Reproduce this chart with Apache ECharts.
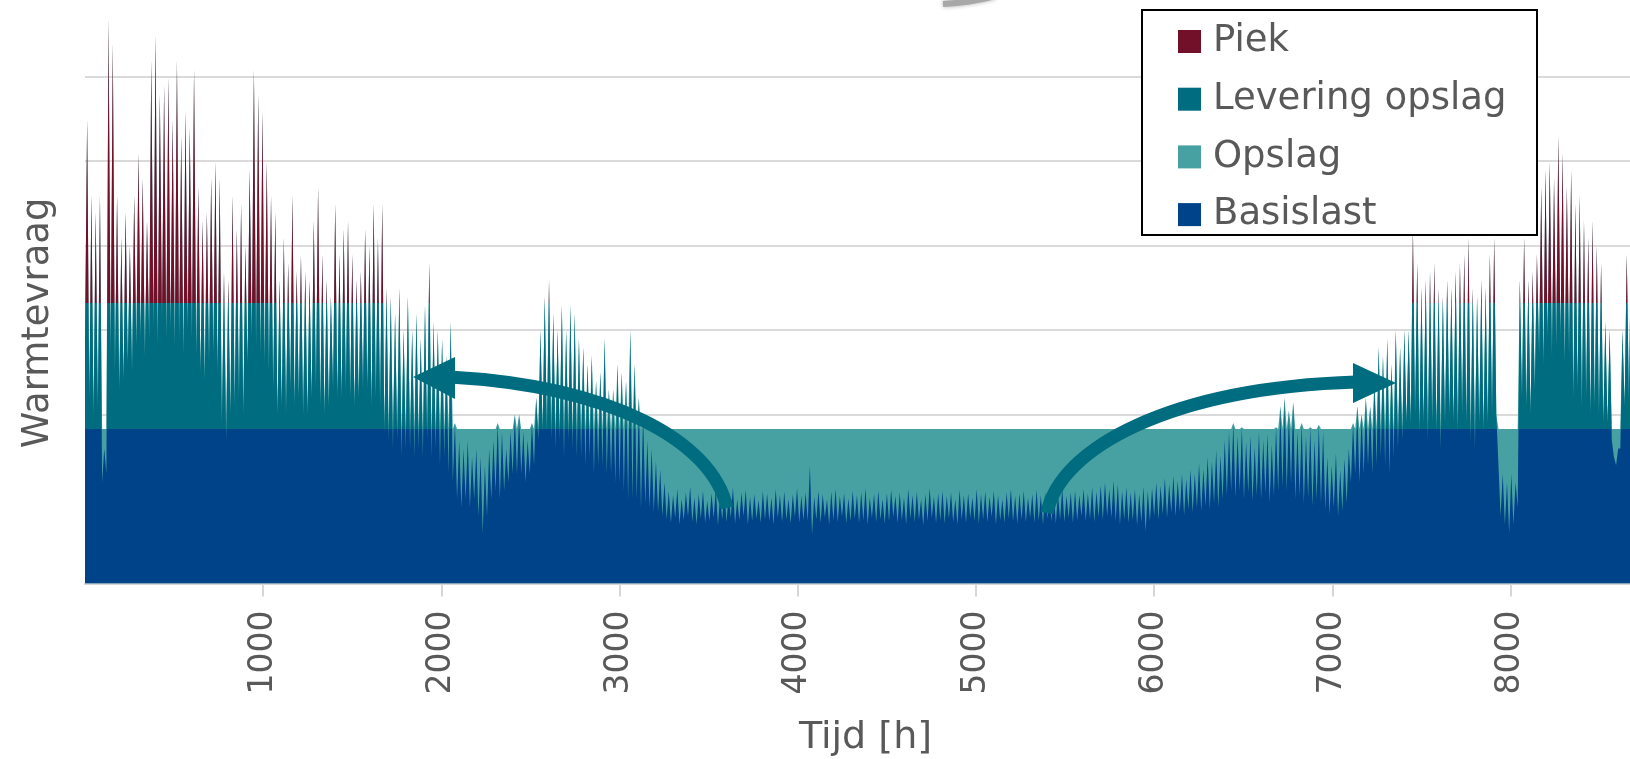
<!DOCTYPE html>
<html>
<head>
<meta charset="utf-8">
<title>Warmtevraag</title>
<script src="https://cdn.jsdelivr.net/npm/echarts@6/dist/echarts.min.js"></script>
<style>
    html, body { margin: 0; padding: 0; background: #fff; }
    #chart { width: 1630px; height: 759px; }
</style>
</head>
<body>
<div id="chart"></div>
<script>
var dailyMax = [
    5.5, 4.6, 4.4, 4.6, 1.6, 6.7, 6.4, 4.6, 4.1, 4.4,
    4.0, 4.6, 5.1, 4.8, 4.3, 6.2, 6.5, 5.8, 5.9, 6.0,
    5.5, 6.2, 5.3, 5.6, 5.4, 6.1, 4.7, 4.3, 4.4, 4.8,
    5.0, 4.8, 3.7, 3.6, 4.6, 4.2, 4.5, 4.0, 4.9, 6.1,
    5.8, 5.6, 5.0, 4.6, 4.4, 3.6, 4.1, 3.8, 4.6, 3.7,
    3.9, 3.7, 3.6, 4.3, 4.7, 3.9, 3.6, 3.4, 4.5, 3.9,
    4.2, 4.3, 3.9, 3.6, 3.7, 4.2, 4.0, 4.5, 4.1, 4.5,
    3.5, 3.4, 3.2, 3.5, 3.0, 3.4, 3.0, 3.2, 2.9, 3.3,
    3.8, 3.1, 3.0, 2.9, 2.7, 3.1, 1.9, 1.7, 1.6, 1.7,
    1.5, 1.6, 1.5, 1.4, 1.6, 1.7, 1.9, 1.8, 1.6, 1.8,
    2.0, 2.0, 1.8, 1.7, 1.9, 2.2, 3.0, 3.4, 3.6, 3.2,
    3.0, 3.3, 3.0, 3.3, 3.2, 2.9, 2.8, 2.6, 2.7, 2.4,
    2.5, 2.9, 2.3, 2.3, 2.6, 2.5, 2.4, 3.0, 2.6, 2.2,
    2.0, 1.7, 1.6, 1.45, 1.35, 1.2, 1.1, 1.05, 1.12, 1.0,
    1.08, 1.15, 1.02, 1.06, 1.1, 0.98, 1.07, 1.12, 1.03, 1.09,
    1.05, 1.14, 1.0, 1.08, 1.11, 1.03, 1.06, 0.99, 1.1, 1.07,
    1.02, 1.12, 1.05, 1.09, 1.0, 1.06, 1.13, 1.04, 1.08, 1.4,
    1.03, 1.1, 1.06, 1.0, 1.09, 1.12, 1.04, 1.07, 1.01, 1.1,
    1.05, 1.08, 1.13, 1.02, 1.06, 1.1, 1.0, 1.07, 1.11, 1.04,
    1.08, 1.02, 1.12, 1.05, 1.09, 1.0, 1.06, 1.13, 1.03, 1.07,
    1.1, 1.04, 1.08, 1.0, 1.11, 1.05, 1.07, 1.02, 1.12, 1.06,
    1.09, 1.03, 1.1, 1.05, 1.0, 1.08, 1.12, 1.04, 1.07, 1.1,
    1.02, 1.06, 1.11, 1.05, 1.08, 1.03, 1.1, 1.06, 1.13, 1.04,
    1.08, 1.1, 1.05, 1.12, 1.07, 1.14, 1.09, 1.16, 1.2, 1.12,
    1.22, 1.18, 1.1, 1.14, 1.08, 1.12, 1.06, 1.15, 1.1, 1.13,
    1.2, 1.16, 1.25, 1.18, 1.28, 1.22, 1.3, 1.24, 1.35, 1.3,
    1.42, 1.36, 1.5, 1.45, 1.58, 1.52, 1.7, 1.8, 1.9, 1.75,
    1.85, 1.68, 1.75, 1.62, 1.8, 1.7, 1.78, 1.65, 1.85, 2.1,
    2.2, 2.05, 2.15, 1.8, 1.9, 1.75, 1.85, 1.7, 1.88, 1.8,
    1.5, 1.4, 1.55, 1.35, 1.48, 1.6, 1.9, 2.1, 2.0, 2.2,
    2.1, 2.4, 2.8, 2.7, 2.9, 2.6, 3.0, 2.8, 3.0, 3.0,
    4.2, 3.8, 3.5, 3.6, 3.7, 3.8, 3.5, 3.4, 3.6, 3.5,
    3.7, 3.8, 3.9, 4.1, 3.5, 3.4, 3.6, 3.5, 3.9, 4.1,
    1.4, 1.3, 1.2, 1.3, 1.2, 3.6, 4.1, 3.6, 3.7, 3.9,
    4.7, 4.9, 5.0, 4.8, 5.3, 5.1, 4.7, 4.9, 4.5, 4.6,
    4.3, 4.1, 4.3, 4.0, 3.8, 3.1, 3.0, 1.5, 1.6, 3.0,
    3.9, 4.1, 4.4, 4.2, 4.6
];
var dailyMin = [
    2.9, 2.2, 2.0, 2.1, 1.2, 1.3, 2.7, 2.5, 2.3, 2.4,
    2.6, 2.5, 2.8, 2.9, 2.7, 2.9, 3.0, 2.8, 3.1, 2.9,
    3.0, 2.8, 2.9, 2.7, 3.0, 2.9, 2.7, 2.5, 2.4, 2.6,
    2.7, 2.5, 1.9, 1.7, 2.0, 2.1, 2.2, 2.0, 2.6, 2.9,
    2.8, 2.7, 2.6, 2.5, 2.3, 2.0, 2.1, 2.0, 2.3, 2.1,
    2.2, 2.0, 2.0, 2.2, 2.3, 2.1, 2.0, 2.1, 2.3, 2.2,
    2.2, 2.3, 2.2, 2.1, 2.2, 2.3, 2.3, 2.1, 2.2, 2.1,
    1.8, 1.7, 1.6, 1.7, 1.5, 1.6, 1.6, 1.5, 1.6, 1.5,
    1.7, 1.5, 1.6, 1.4, 1.5, 1.3, 1.2, 1.0, 0.9, 1.0,
    0.9, 1.0, 0.8, 0.6, 0.8, 1.0, 1.1, 1.0, 1.1, 1.2,
    1.3, 1.3, 1.3, 1.2, 1.3, 1.4, 1.7, 1.8, 1.8, 1.7,
    1.6, 1.7, 1.5, 1.7, 1.6, 1.5, 1.5, 1.4, 1.5, 1.3,
    1.4, 1.4, 1.3, 1.3, 1.2, 1.2, 1.1, 1.0, 1.0, 1.0,
    0.9, 0.95, 0.9, 0.85, 0.85, 0.8, 0.76, 0.72, 0.78, 0.7,
    0.75, 0.79, 0.73, 0.7, 0.77, 0.72, 0.74, 0.78, 0.69, 0.76,
    0.73, 0.78, 0.71, 0.75, 0.8, 0.7, 0.74, 0.77, 0.72, 0.76,
    0.74, 0.7, 0.78, 0.73, 0.76, 0.71, 0.79, 0.72, 0.75, 0.74,
    0.58, 0.76, 0.72, 0.78, 0.7, 0.75, 0.73, 0.79, 0.71, 0.74,
    0.77, 0.72, 0.75, 0.7, 0.78, 0.73, 0.76, 0.71, 0.74, 0.79,
    0.72, 0.75, 0.7, 0.77, 0.73, 0.76, 0.69, 0.74, 0.78, 0.72,
    0.75, 0.71, 0.77, 0.73, 0.7, 0.76, 0.72, 0.78, 0.74, 0.71,
    0.76, 0.73, 0.79, 0.7, 0.75, 0.72, 0.77, 0.74, 0.71, 0.76,
    0.73, 0.78, 0.72, 0.75, 0.7, 0.77, 0.74, 0.71, 0.76, 0.73,
    0.78, 0.72, 0.75, 0.8, 0.74, 0.77, 0.73, 0.79, 0.76, 0.8,
    0.78, 0.74, 0.7, 0.76, 0.72, 0.75, 0.69, 0.73, 0.62, 0.74,
    0.8, 0.76, 0.82, 0.78, 0.84, 0.8, 0.85, 0.81, 0.88, 0.84,
    0.9, 0.86, 0.92, 0.88, 0.95, 0.9, 1.0, 1.05, 1.1, 1.02,
    1.1, 1.0, 1.08, 0.98, 1.05, 1.0, 1.07, 0.96, 1.04, 1.1,
    1.15, 1.1, 1.18, 1.0, 1.05, 0.95, 1.02, 0.92, 1.0, 0.95,
    0.88, 0.82, 0.9, 0.8, 0.86, 0.95, 1.2, 1.3, 1.2, 1.3,
    1.4, 1.3, 1.4, 1.5, 1.4, 1.3, 1.5, 1.6, 1.7, 1.9,
    1.9, 2.0, 1.8, 1.9, 1.7, 1.9, 1.8, 1.6, 1.9, 2.0,
    1.9, 1.8, 2.0, 1.9, 1.7, 1.6, 1.9, 1.8, 1.9, 2.0,
    2.0, 0.8, 0.7, 0.6, 0.7, 0.9, 2.2, 2.1, 2.0, 2.3,
    2.7, 2.6, 2.9, 2.7, 2.8, 2.9, 2.6, 2.7, 2.2, 2.3,
    2.1, 2.2, 2.0, 2.1, 2.0, 1.9, 1.9, 1.7, 1.4, 1.6,
    2.1, 2.2, 2.3, 2.2, 2.4
];
var baseCapacity = 1.83;    // grens basislast
var storageLimit = 3.32;    // grens levering opslag, daarboven piek
var seriesNames = ['Piek', 'Levering opslag', 'Opslag', 'Basislast'];

var peakColor = '#731029';
var deliveryColor = '#006C7F';
var storageColor = '#47A1A3';
var baseColor = '#004388';
var clear = 'rgba(0,0,0,0)';
var textColor = '#595959';
var font = 'DejaVu Sans';
var lowEdge = -1, highEdge = 100;   // eindige grenzen voor de kleurverloop-stops

// nacht (laagste) en middag (hoogste) punt per dag
var demand = [];
dailyMin.forEach(function (v, d) {
    demand.push([24 * d, v]);
    demand.push([24 * d + 12, dailyMax[d]]);
});
// opslag vult het gat tussen vraag en basislast; achter de vraag getekend
var storageTop = demand.map(function (p) {
    return [p[0], Math.max(baseCapacity, p[1])];
});

var chart = echarts.init(document.getElementById('chart'));

function arrowHead(tip, baseX, y1, y2) {
    return {
        type: 'polygon', z: 100,
        shape: { points: [tip, [baseX, y1], [baseX, y2]] },
        style: { fill: deliveryColor }
    };
}

function demandSeries(name, color) {
    return {
        name: name, type: 'line', data: demand, symbol: 'none',
        itemStyle: { color: color }, lineStyle: { width: 0 }, areaStyle: { opacity: 1 }
    };
}

var option = {
    animation: false,
    backgroundColor: '#fff',
    textStyle: { fontFamily: font },
    grid: { left: 85, right: -16, top: -7.9, bottom: 175.4, outerBoundsMode: 'none' },
    xAxis: {
        type: 'value',
        min: 0,
        max: 8760,
        interval: 1000,
        name: 'Tijd [h]',
        nameLocation: 'middle',
        nameGap: 136,
        nameTextStyle: { fontSize: 38, color: textColor, fontFamily: font },
        axisLine: { lineStyle: { color: '#d6d6d6', width: 2 } },
        axisTick: { length: 13, lineStyle: { color: '#d6d6d6', width: 2 } },
        axisLabel: {
            rotate: 90, margin: 27, fontSize: 33, color: textColor, fontFamily: font,
            showMinLabel: false, showMaxLabel: false,
            formatter: function (v) { return String(v); }
        },
        splitLine: { show: false }
    },
    yAxis: {
        type: 'value',
        min: 0,
        max: 7,
        interval: 1,
        name: 'Warmtevraag',
        nameLocation: 'middle',
        nameGap: 28,
        nameTextStyle: { fontSize: 37, color: textColor, fontFamily: font, padding: [0, 70, 0, 0] },
        axisLine: { show: false },
        axisTick: { show: false },
        axisLabel: { show: false },
        splitLine: { lineStyle: { color: '#dadada', width: 2 } }
    },
    legend: {
        orient: 'vertical',
        left: 1178,
        top: 23,
        padding: 0,
        z: 120,
        icon: 'rect',
        itemWidth: 23,
        itemHeight: 23,
        itemGap: 20.7,
        textStyle: { fontSize: 37, lineHeight: 36, color: textColor, fontFamily: font, padding: [0, 0, 0, 7] },
        data: [
            { name: seriesNames[0], itemStyle: { color: peakColor } },
            { name: seriesNames[1], itemStyle: { color: deliveryColor } },
            { name: seriesNames[2], itemStyle: { color: storageColor } },
            { name: seriesNames[3], itemStyle: { color: baseColor } }
        ]
    },
    visualMap: [
        {
            type: 'piecewise', show: false, seriesIndex: 1, dimension: 1,
            pieces: [
                { gte: lowEdge, lte: storageLimit, color: clear },
                { gt: storageLimit, lte: highEdge, color: peakColor }
            ]
        },
        {
            type: 'piecewise', show: false, seriesIndex: 2, dimension: 1,
            pieces: [
                { gte: lowEdge, lte: baseCapacity, color: clear },
                { gt: baseCapacity, lte: storageLimit, color: deliveryColor },
                { gt: storageLimit, lte: highEdge, color: clear }
            ]
        },
        {
            type: 'piecewise', show: false, seriesIndex: 3, dimension: 1,
            pieces: [
                { gte: lowEdge, lte: baseCapacity, color: baseColor },
                { gt: baseCapacity, lte: highEdge, color: clear }
            ]
        }
    ],
    series: [
        {
            name: seriesNames[2], type: 'line', data: storageTop, symbol: 'none',
            itemStyle: { color: storageColor }, lineStyle: { width: 0 },
            areaStyle: { opacity: 1, color: storageColor }
        },
        demandSeries(seriesNames[0], peakColor),
        demandSeries(seriesNames[1], deliveryColor),
        demandSeries(seriesNames[3], baseColor)
    ],
    graphic: [
        {
            type: 'rect', z: 110,
            shape: { x: 1142, y: 10, width: 395, height: 225 },
            style: { fill: '#fff', stroke: '#000', lineWidth: 2 }
        },
        {
            type: 'bezierCurve', z: 100,
            shape: { x1: 727, y1: 508, cpx1: 712, cpy1: 440, cpx2: 610, cpy2: 386, x2: 450, y2: 377 },
            style: { stroke: deliveryColor, lineWidth: 13, fill: null, lineCap: 'butt' }
        },
        arrowHead([413, 377], 455, 357, 399),
        {
            type: 'bezierCurve', z: 100,
            shape: { x1: 1047, y1: 513, cpx1: 1060, cpy1: 448, cpx2: 1170, cpy2: 388, x2: 1356, y2: 382 },
            style: { stroke: deliveryColor, lineWidth: 13, fill: null, lineCap: 'butt' }
        },
        arrowHead([1396, 383], 1353, 363, 403),
        {
            type: 'bezierCurve', z: 100,
            shape: { x1: 943, y1: 4, cpx1: 960, cpy1: 3, cpx2: 978, cpy2: 1, x2: 995, y2: -4 },
            style: { stroke: '#a8a8a8', lineWidth: 6, fill: null, shadowBlur: 4, shadowColor: 'rgba(0,0,0,0.3)' }
        }
    ]
};

chart.setOption(option);
window.addEventListener('resize', function () {
    chart.resize();
});
</script>
</body>
</html>
